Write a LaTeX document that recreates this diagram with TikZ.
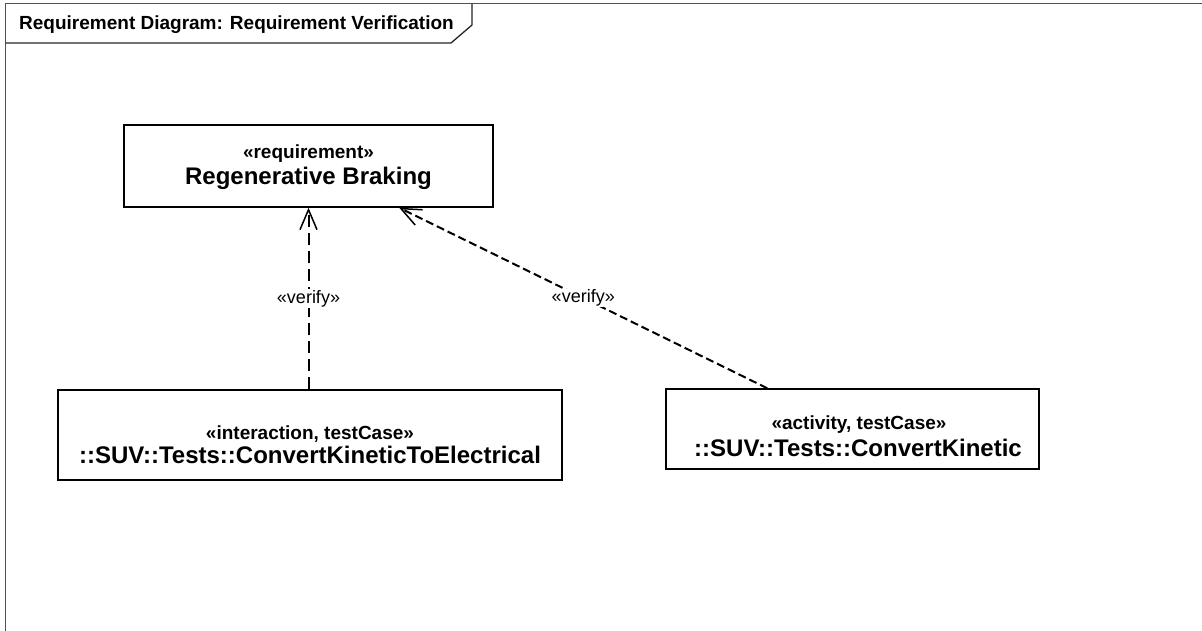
\documentclass[tikz,border=0pt]{standalone}
\usepackage{fontspec}
\setmainfont{Liberation Sans}
\usetikzlibrary{arrows.meta,calc}

\tikzset{
  framec/.style={draw=black!68, line width=1.8pt},
  tabline/.style={draw=black!85, line width=1.3pt},
  blockbox/.style={draw=black, line width=1.5pt, rectangle, inner sep=0pt},
  stereo/.style={font=\bfseries\fontsize{19}{22}\selectfont, anchor=base, inner sep=0pt},
  blockname/.style={font=\bfseries\fontsize{24}{28}\selectfont, anchor=base, inner sep=0pt},
  verifylbl/.style={font=\fontsize{18}{21}\selectfont, fill=white, inner sep=1pt},
  verifyline/.style={line width=2pt, -{Straight Barb[length=20pt,width=17pt,line width=1.5pt]}},
}

\begin{document}
\begin{tikzpicture}[x=1pt,y=-1pt]
  \useasboundingbox (0,0) rectangle (1202,630);
  \fill[white] (0,0) rectangle (1202,630);

  % diagram frame running off the page, with its title tab
  \begin{scope}
    \clip (0,0) rectangle (1202,630);
    \draw[framec] (5.5,660) -- (5.5,3.5) -- (1240,3.5);
  \end{scope}
  \draw[tabline] (5.5,43) -- (451,43) -- (472,25) -- (472,3.5);
  \node[anchor=base west, inner sep=0pt, font=\bfseries\fontsize{19}{22}\selectfont] (title) at (19,29)
    {Requirement Diagram: Requirement Verification};

  % requirement block
  \node[blockbox, minimum width=369pt, minimum height=82pt] (req) at (308.5,166) {};
  \node[stereo] (reqst) at (308.5,158) {«requirement»};
  \node[blockname] (reqnm) at (308.5,184) {Regenerative Braking};

  % test case blocks
  \node[blockbox, minimum width=504pt, minimum height=90pt] (tc1) at (310,435) {};
  \node[stereo] (tc1st) at (310,439) {«interaction, testCase»};
  \node[blockname] (tc1nm) at (310,463) {::SUV::Tests::ConvertKineticToElectrical};

  \node[blockbox, minimum width=373pt, minimum height=80pt] (tc2) at (852.5,429) {};
  \node[stereo] (tc2st) at (859,429) {«activity, testCase»};
  \node[blockname] (tc2nm) at (858,456) {::SUV::Tests::ConvertKinetic};

  % verify dependencies
  \draw[verifyline, dash pattern=on 12pt off 6pt] (tc1.north -| req.south) -- (req.south)
    node[verifylbl, pos=0.5] (v1) {«verify»};
  \draw[verifyline, dash pattern=on 8pt off 4pt] ($(tc2.north west)+(102,0)$) -- ($(req.south west)+(276,0)$)
    node[verifylbl, pos=0.5] (v2) {«verify»};
\end{tikzpicture}
\end{document}
